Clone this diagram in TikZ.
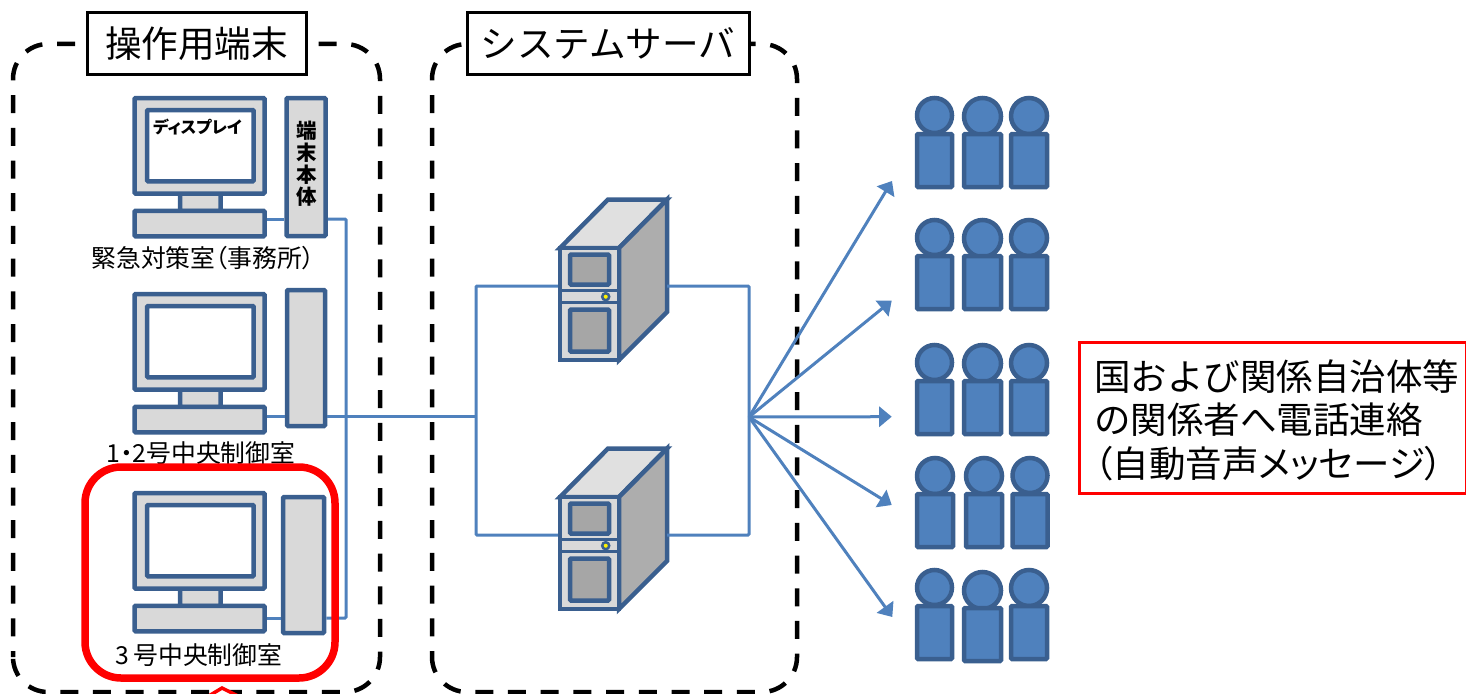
\documentclass[tikz,border=0pt]{standalone}
\usepackage{fontspec}
\setmainfont{Noto Sans CJK JP}
\newfontfamily\propfont[RawFeature=+palt]{Noto Sans CJK JP}
\usetikzlibrary{arrows.meta}

\definecolor{edgeblue}{HTML}{3A5F8F}
\definecolor{fillblue}{HTML}{4F81BD}
\definecolor{lightgray}{HTML}{D9D9D9}
\definecolor{topgray}{HTML}{E0E0E0}
\definecolor{sidegray}{HTML}{ADADAD}
\definecolor{panelgray}{HTML}{A6A6A6}

\tikzset{
  dashbox/.style={draw=black,line width=4.5pt,dash pattern=on 18pt off 14.7pt,dash phase=12pt},
  titlebox/.style={draw=black,fill=white,line width=3pt,inner sep=0pt,font=\fontsize{36.6}{40}\selectfont},
  device/.style={draw=edgeblue,fill=lightgray,line width=4.5pt,rounded corners=1pt},
  devnode/.style={device,inner sep=0pt},
  wire/.style={draw=fillblue,line width=3pt},
  callarrow/.style={wire,-{Triangle[length=12.5pt,width=20pt]}},
  person/.style={draw=edgeblue,fill=fillblue,line width=4.5pt,rounded corners=1pt},
  roomlabel/.style={inner sep=0pt,font=\propfont\fontsize{24.8}{28}\selectfont}
}

\begin{document}
\begin{tikzpicture}[x=1pt,y=-1pt]
  \useasboundingbox (0,0) rectangle (1466,693);

  \draw[dashbox,rounded corners=35pt] (13,692) rectangle (380,44);
  \draw[dashbox,rounded corners=35pt] (432,692) rectangle (797,44);
  \node[titlebox,minimum width=219,minimum height=61] (termtitle) at (196.5,43.5) {操作用端末};
  \node[titlebox,minimum width=282,minimum height=61] (srvtitle) at (608,43.5) {システムサーバ};

  % terminals
  \foreach \d/\n in {0/1,196/2,395/3}
  {
    \draw[device] (180,{193+\d}) rectangle (220.5,{211+\d});
    \draw[device] (134.5,{98+\d}) rectangle (264.5,{193.5+\d});
    \draw[device,fill=white] (147,{110+\d}) rectangle (253.7,{181.3+\d});
    \node[devnode,minimum width=130,minimum height=25.5] (kbd\n) at (199.5,{223.5+\d}) {};
  }
  \node[devnode,minimum width=39,minimum height=138] (tower1) at (306,167) {};
  \node[devnode,minimum width=38,minimum height=136] (tower2) at (306,358) {};
  \node[devnode,minimum width=41,minimum height=136] (tower3) at (303.5,565) {};

  \node[inner sep=0pt,font=\propfont\fontsize{16.5}{18}\bfseries\selectfont] (displabel) at (197.5,127) {ディスプレイ};
  \node[inner sep=0pt,align=center,font=\fontsize{20.5}{22}\bfseries\selectfont] (towerlabel) at (307,164) {端\\末\\本\\体};
  \node[roomlabel] (room1) at (203,258) {緊急対策室（事務所）};
  \node[roomlabel] (room2) at (201,453) {1・2号中央制御室};
  \node[roomlabel] (room3) at (199,655) {3\hspace{4pt}号中央制御室};

  \coordinate (busa) at (346,219);
  \coordinate (busb) at (346,618);
  \coordinate (leftmid) at (476,416);
  \coordinate (lefttop) at (476,286);
  \coordinate (leftbot) at (476,535);
  \coordinate (righttop) at (749,286);
  \coordinate (rightbot) at (749,535);
  \coordinate (hub) at (749,417);

  % servers
  \foreach \d/\n in {0/1,249/2}
  {
    \draw[device,fill=topgray,rounded corners=0pt] (560,{248+\d}) -- (608,{199.5+\d}) -- (667,{199.5+\d}) -- (619,{248+\d}) -- cycle;
    \draw[device,fill=sidegray,rounded corners=0pt] (619,{248+\d}) -- (667,{199.5+\d}) -- (667,{312+\d}) -- (619,{360+\d}) -- cycle;
    \node[devnode,rounded corners=0pt,minimum width=59,minimum height=112] (srv\n) at (589.5,{304+\d}) {};
    \draw[device,fill=panelgray] (570,{254.5+\d}) rectangle (609,{284.5+\d});
    \draw[device,fill=panelgray] (570,{309.5+\d}) rectangle (609,{351.5+\d});
    \draw[edgeblue,line width=3pt] (560,{290+\d}) -- (619,{290+\d});
    \draw[edgeblue,line width=3pt] (560,{302.5+\d}) -- (619,{302.5+\d});
    \draw[edgeblue,fill=yellow,line width=2.5pt] (605.7,{296.7+\d}) circle (3.5pt);
  }

  % wiring
  \draw[wire] (kbd1.east |- busa) -- (tower1.west |- busa);
  \draw[wire] (kbd2.east |- leftmid) -- (tower2.west |- leftmid);
  \draw[wire] (kbd3.east |- busb) -- (tower3.west |- busb);
  \draw[wire,rounded corners=1pt] (tower1.east |- busa) -- (busa) -- (busb) -- (tower3.east |- busb);
  \draw[wire] (tower2.east |- leftmid) -- (leftmid);
  \draw[wire,rounded corners=1pt] (srv1.west |- lefttop) -- (lefttop) -- (leftbot) -- (srv2.west |- leftbot);
  \draw[wire,rounded corners=1pt] (667,286) -- (righttop) -- (rightbot) -- (667,535);

  \coordinate (tipa) at (892,181);
  \coordinate (tipb) at (891.7,300.7);
  \coordinate (tipc) at (891.7,416.7);
  \coordinate (tipd) at (891.7,505);
  \coordinate (tipe) at (892.3,617);
  \foreach \t in {tipa,tipb,tipc,tipd,tipe}
    \draw[callarrow] (hub) -- (\t);

  % people
  \foreach \px/\py/\pw in {934.5/96/39,982.5/96/41,1029/96/40,
    934.5/218/39,982.5/218/41,1029/218/40,
    934.5/343/39,982.5/343/41,1029/343/40,
    935/456/40,984/456/40,1030/456/39,
    934.5/568/39,982.5/570/41,1029/568/40}
  {
    \draw[person] (\px,{\py+\pw/2}) circle ({\pw/2-2});
    \draw[person] ({\px-\pw/2+2},{\py+38}) rectangle ({\px+\pw/2-2},{\py+91});
  }

  % highlighted room
  \draw[red,line width=7.5pt,rounded corners=36pt] (85,467) rectangle (335,678);
  \draw[red,fill=white,line width=3.5pt] (202,700) -- (222,688) -- (246,700) -- cycle;

  \node[draw=red,fill=white,line width=3pt,anchor=north west,inner sep=0pt,
    minimum width=387,minimum height=151] (notice) at (1077.5,341) {};
  \node[anchor=west,inner sep=0pt,align=left,
    font=\fontsize{36.5}{43.5}\selectfont] (noticetext) at (1094,420) {国および関係自治体等\\の関係者へ電話連絡\\{\propfont（自動音声メッセージ）}};
\end{tikzpicture}
\end{document}
